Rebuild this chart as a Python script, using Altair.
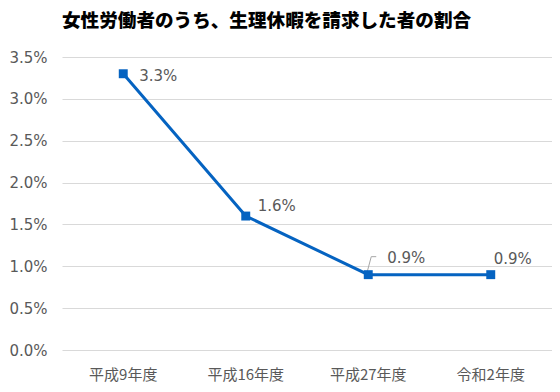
import altair as alt
import pandas as pd

categories = ["平成9年度", "平成16年度", "平成27年度", "令和2年度"]
values = [0.033, 0.016, 0.009, 0.009]
labels = ["3.3%", "1.6%", "0.9%", "0.9%"]
y_ticks = [0, 0.005, 0.01, 0.015, 0.02, 0.025, 0.03, 0.035]

df = pd.DataFrame({"cat": categories, "val": values, "lab": labels})

BLUE = "#0563C1"
GRAY = "#595959"
NUM_FONT = "DejaVu Sans"
JP_FONT = "Noto Sans CJK JP"

x = alt.X("cat:N", sort=categories, title=None,
          scale=alt.Scale(paddingInner=0, paddingOuter=0),
          axis=alt.Axis(labelAngle=0, domain=False, ticks=False, tickSize=0,
                        labelFont=JP_FONT, labelFontSize=15, labelColor=GRAY,
                        labelPadding=17, grid=False))
y = alt.Y("val:Q", title=None,
          scale=alt.Scale(domain=[0, 0.035], nice=False),
          axis=alt.Axis(values=y_ticks, format=".1%", domain=False, ticks=False, tickSize=0,
                        labelFont=NUM_FONT, labelFontSize=15, labelColor=GRAY,
                        labelPadding=15, gridColor="#d9d9d9", gridWidth=1))

base = alt.Chart(df)

line = base.mark_line(color=BLUE, strokeWidth=3).encode(x=x, y=y)
pts = base.mark_point(shape="square", filled=True, size=80, color=BLUE, opacity=1).encode(x=x, y=y)

# label offsets (dx, dy) per category
offsets = {"平成9年度": (16, 2), "平成16年度": (12, -10), "平成27年度": (19, -17), "令和2年度": (3, -16)}
text_layers = []
for c in categories:
    dx, dy = offsets[c]
    text_layers.append(
        base.transform_filter(alt.datum.cat == c)
        .mark_text(align="left", baseline="middle", dx=dx, dy=dy,
                   font=NUM_FONT, fontSize=15, color=GRAY)
        .encode(x=alt.X("cat:N", sort=categories), y="val:Q", text="lab:N")
    )

leader_df = df[df["cat"] == "平成27年度"]
lb = alt.Chart(leader_df)
lead1 = lb.mark_rule(color="#a6a6a6", strokeWidth=1, xOffset=-1, yOffset=-3, x2Offset=3, y2Offset=-18).encode(
    x=alt.X("cat:N", sort=categories), x2="cat:N", y="val:Q", y2="val:Q")
lead2 = lb.mark_rule(color="#a6a6a6", strokeWidth=1, xOffset=3, yOffset=-18, x2Offset=8, y2Offset=-18).encode(
    x=alt.X("cat:N", sort=categories), x2="cat:N", y="val:Q", y2="val:Q")

chart = alt.layer(line, lead1, lead2, pts, *text_layers).properties(
    width=490, height=293,
    autosize=alt.AutoSizeParams(type="none"),
    padding={"left": 54, "top": 49, "right": 0, "bottom": 34},
    title=alt.TitleParams("女性労働者のうち、生理休暇を請求した者の割合", anchor="start", frame="group",
                          font=JP_FONT, fontSize=18.6, fontWeight=900, color="#000000", offset=19),
).configure_view(stroke=None)

chart.save("out.html", embed_options={"renderer": "svg", "actions": False})
